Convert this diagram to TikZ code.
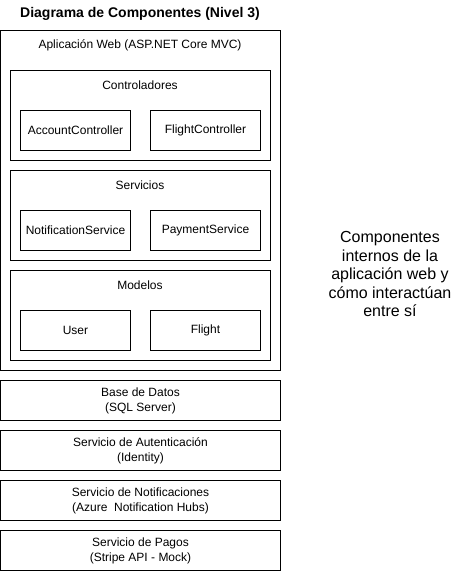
\documentclass[tikz,border=0pt]{standalone}
\usepackage{fontspec}
\setmainfont{Liberation Sans}
\begin{document}
\begin{tikzpicture}[x=1pt,y=-1pt,
                box/.style={draw,line width=1pt,inner sep=0pt,anchor=north west,
                    font=\fontsize{12}{15}\selectfont,align=center},
                txt/.style={font=\fontsize{12}{15}\selectfont,align=center}]
                \useasboundingbox (0,0) rectangle (461,571);
                \node[font=\bfseries\fontsize{14}{16}\selectfont] (title) at (140,14) {Diagrama de Componentes (Nivel 3)};
                % aplicacion web
                \node[box,minimum width=280pt,minimum height=340pt] (app) at (0,30) {};
                \node[txt] (appLbl) at (140,45) {Aplicación Web (ASP.NET Core MVC)};
                % controladores
                \node[box,minimum width=260pt,minimum height=90pt] (ctrl) at (10,70) {};
                \node[txt] (ctrlLbl) at (140,85) {Controladores};
                \node[box,minimum width=110pt,minimum height=40pt] (accCtrl) at (20,110) {AccountController};
                \node[box,minimum width=110pt,minimum height=40pt] (fltCtrl) at (150,110) {FlightController};
                % servicios
                \node[box,minimum width=260pt,minimum height=90pt] (serv) at (10,170) {};
                \node[txt] (servLbl) at (140,185) {Servicios};
                \node[box,minimum width=110pt,minimum height=40pt] (notifServ) at (20,210) {NotificationService};
                \node[box,minimum width=110pt,minimum height=40pt] (payServ) at (150,210) {PaymentService};
                % modelos
                \node[box,minimum width=260pt,minimum height=90pt] (mod) at (10,270) {};
                \node[txt] (modLbl) at (140,285) {Modelos};
                \node[box,minimum width=110pt,minimum height=40pt] (user) at (20,310) {User};
                \node[box,minimum width=110pt,minimum height=40pt] (flight) at (150,310) {Flight};
                % servicios externos
                \node[box,minimum width=280pt,minimum height=40pt] (db) at (0,380) {Base de Datos\\(SQL Server)};
                \node[box,minimum width=280pt,minimum height=40pt] (auth) at (0,430) {Servicio de Autenticación\\(Identity)};
                \node[box,minimum width=280pt,minimum height=40pt] (notif) at (0,480) {Servicio de Notificaciones\\(Azure\ \ Notification Hubs)};
                \node[box,minimum width=280pt,minimum height=40pt] (pay) at (0,530) {Servicio de Pagos\\(Stripe API - Mock)};
                % nota
                \node[font=\fontsize{16}{18.5}\selectfont,align=center] (note) at (390,274)
                    {Componentes\\internos de la\\aplicación web y\\cómo interactúan\\entre sí};
            \end{tikzpicture}
\end{document}
